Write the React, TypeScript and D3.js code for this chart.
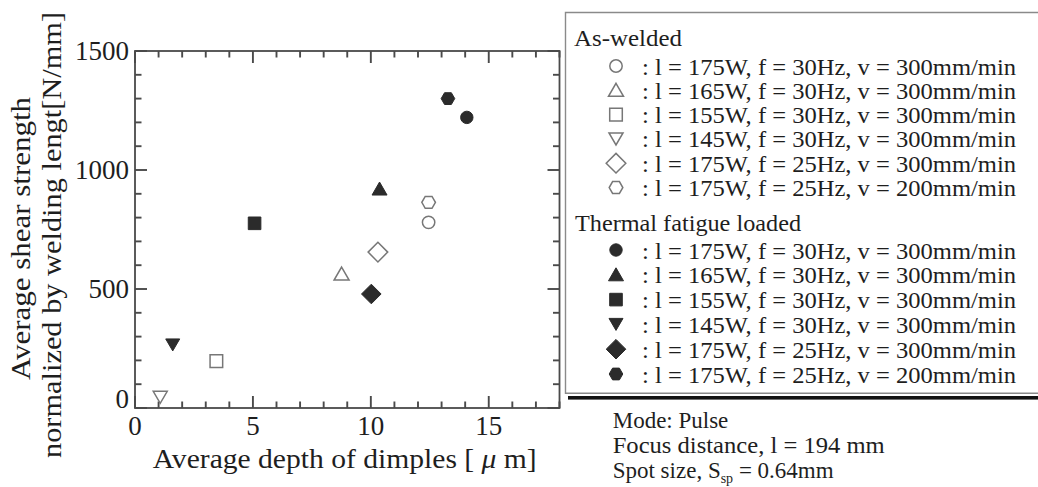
import React from "react";
import * as d3 from "d3";

// ---- data ----
const shapes = ["circle", "triangle", "square", "triangleDown", "diamond", "hexagon"];
const conditions = [
  ": l = 175W, f = 30Hz, v = 300mm/min",
  ": l = 165W, f = 30Hz, v = 300mm/min",
  ": l = 155W, f = 30Hz, v = 300mm/min",
  ": l = 145W, f = 30Hz, v = 300mm/min",
  ": l = 175W, f = 25Hz, v = 300mm/min",
  ": l = 175W, f = 25Hz, v = 200mm/min",
];
const asWeldedX = [12.45, 8.76, 3.45, 1.07, 10.3, 12.45];
const asWeldedY = [780, 563, 197, 45, 655, 864];
const fatigueX = [14.07, 10.37, 5.07, 1.6, 10.02, 13.27];
const fatigueY = [1221, 920, 776, 265, 479, 1300];
const xTicks = [0, 5, 10, 15];
const yTicks = [0, 500, 1000, 1500];
const xMinor = d3.range(0, 19, 1);
const yMinor = d3.range(0, 1501, 100);
const groupTitles = ["As-welded", "Thermal fatigue loaded"];
const notes = ["Mode: Pulse", "Focus distance, l = 194 mm"];

// ---- layout ----
const W = 1038, H = 487;
const L = 135, R = 559.5, T = 51, B = 408;
const xs = d3.scaleLinear().domain([0, 18]).range([L, R]);
const ys = d3.scaleLinear().domain([0, 1500]).range([B, T]);
const FONT = "'Liberation Serif', 'Times New Roman', serif";
const TXT = "#1e1e1e";
const AXIS = "#4a4a4a";
const OPEN = "#777";
const FILL = "#2b2b2b";

function markerPath(shape: string, cx: number, cy: number): string {
  const p = d3.path();
  const poly = (pts: [number, number][]) => {
    p.moveTo(cx + pts[0][0], cy + pts[0][1]);
    for (let i = 1; i < pts.length; i++) p.lineTo(cx + pts[i][0], cy + pts[i][1]);
    p.closePath();
  };
  switch (shape) {
    case "circle":
      p.moveTo(cx + 6.2, cy);
      p.arc(cx, cy, 6.2, 0, Math.PI * 2);
      p.closePath();
      break;
    case "triangle":
      poly([[0, -7], [7.5, 6], [-7.5, 6]]);
      break;
    case "square":
      poly([[-6.3, -6.3], [6.3, -6.3], [6.3, 6.3], [-6.3, 6.3]]);
      break;
    case "triangleDown":
      poly([[-7, -6], [7, -6], [0, 6]]);
      break;
    case "diamond":
      poly([[0, -9.8], [9.8, 0], [0, 9.8], [-9.8, 0]]);
      break;
    case "hexagon": {
      const pts: [number, number][] = d3.range(6).map((i) => {
        const a = (Math.PI / 3) * i;
        return [6.8 * Math.cos(a), 6.8 * Math.sin(a)] as [number, number];
      });
      poly(pts);
      break;
    }
  }
  return p.toString();
}

function Marker({ shape, cx, cy, filled }: { shape: string; cx: number; cy: number; filled: boolean }) {
  return (
    <path
      d={markerPath(shape, cx, cy)}
      fill={filled ? FILL : "white"}
      stroke={filled ? FILL : OPEN}
      strokeWidth={filled ? 1 : 1.5}
      strokeLinejoin="miter"
    />
  );
}

export default function App() {
  const legendMarkerX = 616;
  const legendTextX = 642;
  const awRowY = (i: number) => 66 + i * 24.3;
  const tfRowY = (i: number) => 250 + i * 24.8;

  return (
    <svg
      width={W}
      height={H}
      viewBox={`0 0 ${W} ${H}`}
      style={{ position: "absolute", left: 0, top: 0, background: "white", display: "block" }}
      fontFamily={FONT}
    >
      <rect x={0} y={0} width={W} height={H} fill="white" />

      {/* frame */}
      <rect x={L} y={T} width={R - L} height={B - T} fill="none" stroke={AXIS} strokeWidth={1.8} />

      {/* ticks, inward on all four sides */}
      {xMinor.map((v) => {
        const len = v % 5 === 0 ? 12 : 6.5;
        return (
          <g key={"xm" + v}>
            <line x1={xs(v)} x2={xs(v)} y1={B} y2={B - len} stroke={AXIS} strokeWidth={1.9} />
            <line x1={xs(v)} x2={xs(v)} y1={T} y2={T + len} stroke={AXIS} strokeWidth={1.9} />
          </g>
        );
      })}
      {yMinor.map((v) => {
        const len = v % 500 === 0 ? 12 : 6.5;
        return (
          <g key={"ym" + v}>
            <line x1={L} x2={L + len} y1={ys(v)} y2={ys(v)} stroke={AXIS} strokeWidth={1.9} />
            <line x1={R} x2={R - len} y1={ys(v)} y2={ys(v)} stroke={AXIS} strokeWidth={1.9} />
          </g>
        );
      })}

      {/* tick labels */}
      {xTicks.map((v) => (
        <text key={"xt" + v} x={xs(v)} y={435} fontSize={27} textAnchor="middle" fill={TXT}>
          {v}
        </text>
      ))}
      {yTicks.map((v) => (
        <text key={"yt" + v} x={129} y={ys(v) + 9 - (v === 0 ? 9 : 0)} fontSize={27} textAnchor="end" fill={TXT}>
          {v}
        </text>
      ))}

      {/* axis titles */}
      <text x={344.7} y={468} fontSize={28} textAnchor="middle" fill={TXT} textLength={384} lengthAdjust="spacingAndGlyphs">
        Average depth of dimples [ <tspan fontStyle="italic">μ</tspan> m]
      </text>
      <text
        transform="translate(29.5,238.5) rotate(-90)"
        fontSize={28}
        textAnchor="middle"
        fill={TXT}
        textLength={283}
        lengthAdjust="spacingAndGlyphs"
      >
        Average shear strength
      </text>
      <text
        transform="translate(61,235) rotate(-90)"
        fontSize={28}
        textAnchor="middle"
        fill={TXT}
        textLength={446}
        lengthAdjust="spacingAndGlyphs"
      >
        normalized by welding lengt[N/mm]
      </text>

      {/* data */}
      {shapes.map((s, i) => (
        <Marker key={"aw" + i} shape={s} cx={xs(asWeldedX[i])} cy={ys(asWeldedY[i])} filled={false} />
      ))}
      {shapes.map((s, i) => (
        <Marker key={"tf" + i} shape={s} cx={xs(fatigueX[i])} cy={ys(fatigueY[i])} filled={true} />
      ))}

      {/* legend box */}
      <rect x={568} y={396} width={W - 568} height={3.6} fill="#111" />
      <path d={`M${W + 5},12.5 H565.5 V393.3 H${W + 5}`} fill="none" stroke="#8a8a8a" strokeWidth={1.4} />

      <text x={574} y={46} fontSize={24} fill={TXT} textLength={108} lengthAdjust="spacingAndGlyphs">
        {groupTitles[0]}
      </text>
      {shapes.map((s, i) => (
        <g key={"lg1" + i}>
          <Marker shape={s} cx={legendMarkerX} cy={awRowY(i)} filled={false} />
          <text x={legendTextX} y={awRowY(i) + 8.5} fontSize={23} fill={TXT} textLength={374} lengthAdjust="spacingAndGlyphs">
            {conditions[i]}
          </text>
        </g>
      ))}
      <text x={575} y={231} fontSize={24} fill={TXT} textLength={226} lengthAdjust="spacingAndGlyphs">
        {groupTitles[1]}
      </text>
      {shapes.map((s, i) => (
        <g key={"lg2" + i}>
          <Marker shape={s} cx={legendMarkerX} cy={tfRowY(i)} filled={true} />
          <text x={legendTextX} y={tfRowY(i) + 8.5} fontSize={23} fill={TXT} textLength={374} lengthAdjust="spacingAndGlyphs">
            {conditions[i]}
          </text>
        </g>
      ))}

      {/* notes */}
      <text x={612.7} y={428} fontSize={23} fill={TXT}>
        {notes[0]}
      </text>
      <text x={612.7} y={453} fontSize={23} fill={TXT} textLength={272} lengthAdjust="spacingAndGlyphs">
        {notes[1]}
      </text>
      <text x={612.7} y={478} fontSize={23} fill={TXT}>
        Spot size, S
        <tspan fontSize={14} dy={5}>sp</tspan>
        <tspan dy={-5}> = 0.64mm</tspan>
      </text>
    </svg>
  );
}
